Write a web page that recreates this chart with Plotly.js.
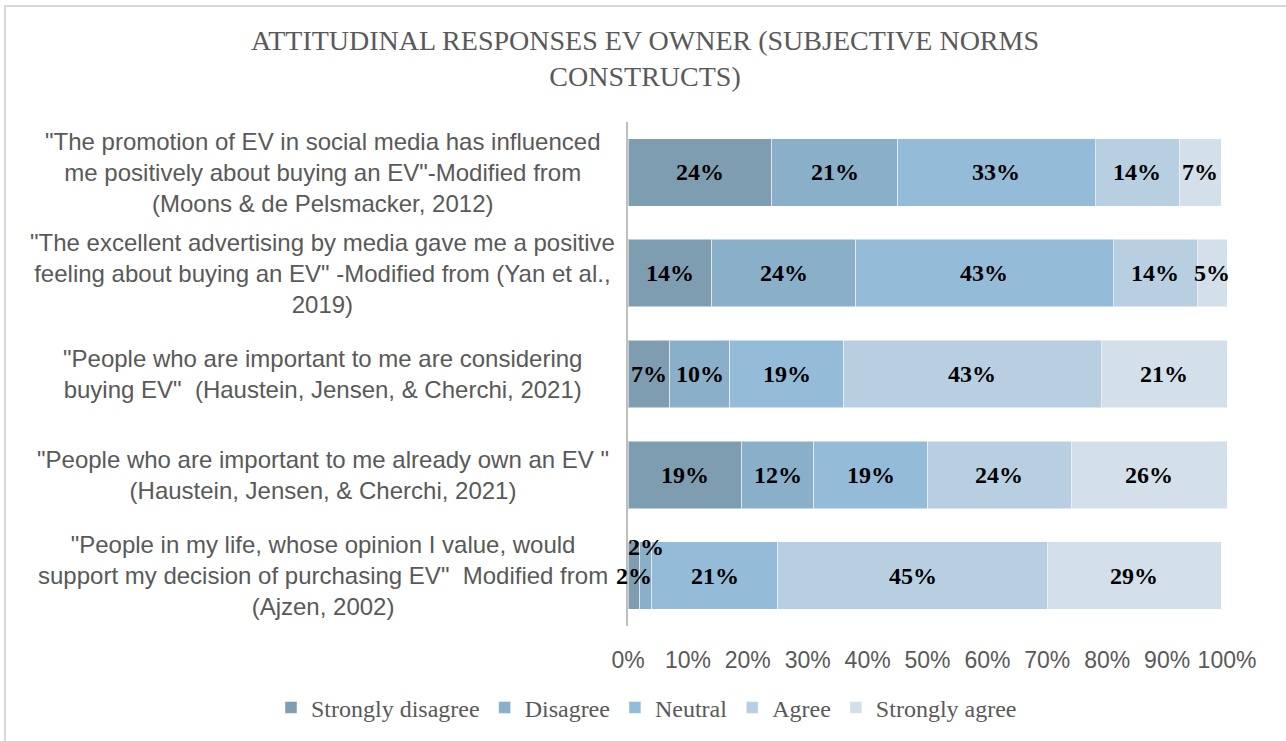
<!DOCTYPE html>
<html>
<head>
<meta charset="utf-8">
<script src="https://cdn.plot.ly/plotly-3.0.1.min.js"></script>
<style>
  html, body { margin: 0; padding: 0; background: #fff; }
  #chart { width: 1286px; height: 741px; }
  #frame { position: absolute; left: 4px; top: 5px; width: 1300px; height: 800px;
           border-top: 2px solid #d9d9d9; border-left: 2px solid #d9d9d9; pointer-events: none; }
</style>
</head>
<body>
<div id="chart"></div>
<div id="frame"></div>
<script>
const statements = [
  "\"The promotion of EV in social media has influenced<br>me positively about buying an EV\"-Modified from<br>(Moons & de Pelsmacker, 2012)",
  "\"The excellent advertising by media gave me a positive<br>feeling about buying an EV\" -Modified from (Yan et al.,<br>2019)",
  "\"People who are important to me are considering<br>buying EV\"  (Haustein, Jensen, & Cherchi, 2021)",
  "\"People who are important to me already own an EV \"<br>(Haustein, Jensen, & Cherchi, 2021)",
  "\"People in my life, whose opinion I value, would<br>support my decision of purchasing EV\"  Modified from<br>(Ajzen, 2002)"
];
const seriesNames = ["Strongly disagree", "Disagree", "Neutral", "Agree", "Strongly agree"];
const stronglyDisagree = [24, 14, 7, 19, 2];
const disagree         = [21, 24, 10, 12, 2];
const neutral          = [33, 43, 19, 19, 21];
const agree            = [14, 14, 43, 24, 45];
const stronglyAgree    = [7, 5, 21, 26, 29];
const xTickVals  = [0, 10, 20, 30, 40, 50, 60, 70, 80, 90, 100];
const xTickText  = ["0%", "10%", "20%", "30%", "40%", "50%", "60%", "70%", "80%", "90%", "100%"];

const seriesValues = [stronglyDisagree, disagree, neutral, agree, stronglyAgree];
const colors = ["#7f9db1", "#8aafc9", "#94bbd8", "#b8cfe2", "#d3dfe9"];

const traces = seriesValues.map((vals, i) => ({
  type: "bar",
  orientation: "h",
  name: seriesNames[i],
  x: vals,
  y: statements,
  marker: { color: colors[i], line: { color: "rgba(255,255,255,0.5)", width: 1 } },
  textposition: "none",
  hoverinfo: "x+name"
}));

const annotations = [];
statements.forEach((s, r) => {
  let cum = 0;
  seriesValues.forEach((vals, i) => {
    const v = vals[r];
    const mid = cum + v / 2;
    let yshift = 0;
    if (i > 0 && v < 3 && seriesValues[i - 1][r] < 3) yshift = 29;
    annotations.push({
      x: mid, y: s, xref: "x", yref: "y",
      text: v + "%", showarrow: false, yshift: yshift,
      font: { family: "Liberation Serif, Times New Roman, serif", size: 24, color: "#000", weight: "bold" }
    });
    cum += v;
  });
  annotations.push({
    x: -0.51, y: s, xref: "paper", yref: "y",
    text: s, showarrow: false, xanchor: "center", align: "center",
    font: { family: "Liberation Sans, Arial, sans-serif", size: 24, color: "#595959" }
  });
});

const layout = {
  width: 1286, height: 741,
  margin: { l: 628, r: 59, t: 122, b: 114 },
  paper_bgcolor: "#ffffff", plot_bgcolor: "#ffffff",
  barmode: "stack",
  bargap: 0.33,
  title: {
    text: "ATTITUDINAL RESPONSES EV OWNER (SUBJECTIVE NORMS<br>CONSTRUCTS)",
    x: 0.5016, xref: "container", xanchor: "center",
    y: 0.933, yref: "container", yanchor: "top",
    font: { family: "Liberation Serif, Times New Roman, serif", size: 28, color: "#595959" }
  },
  xaxis: {
    range: [0, 100], tickvals: xTickVals, ticktext: xTickText,
    showgrid: false, zeroline: false, showline: false, ticks: "",
    ticklabelstandoff: 18,
    tickfont: { family: "Liberation Sans, Arial, sans-serif", size: 23, color: "#595959" },
    fixedrange: true
  },
  yaxis: {
    autorange: "reversed", showticklabels: false, ticks: "",
    showgrid: false, zeroline: false,
    showline: true, linecolor: "#bfbfbf", linewidth: 2,
    fixedrange: true
  },
  showlegend: true,
  legend: {
    orientation: "h", traceorder: "normal",
    x: -0.596, xref: "paper", xanchor: "left",
    y: -0.16, yref: "paper", yanchor: "middle",
    font: { family: "Liberation Serif, Times New Roman, serif", size: 24, color: "#595959" },
    itemwidth: 30
  },
  annotations: annotations
};

Plotly.newPlot("chart", traces, layout, { displayModeBar: false, staticPlot: true });
</script>
</body>
</html>
